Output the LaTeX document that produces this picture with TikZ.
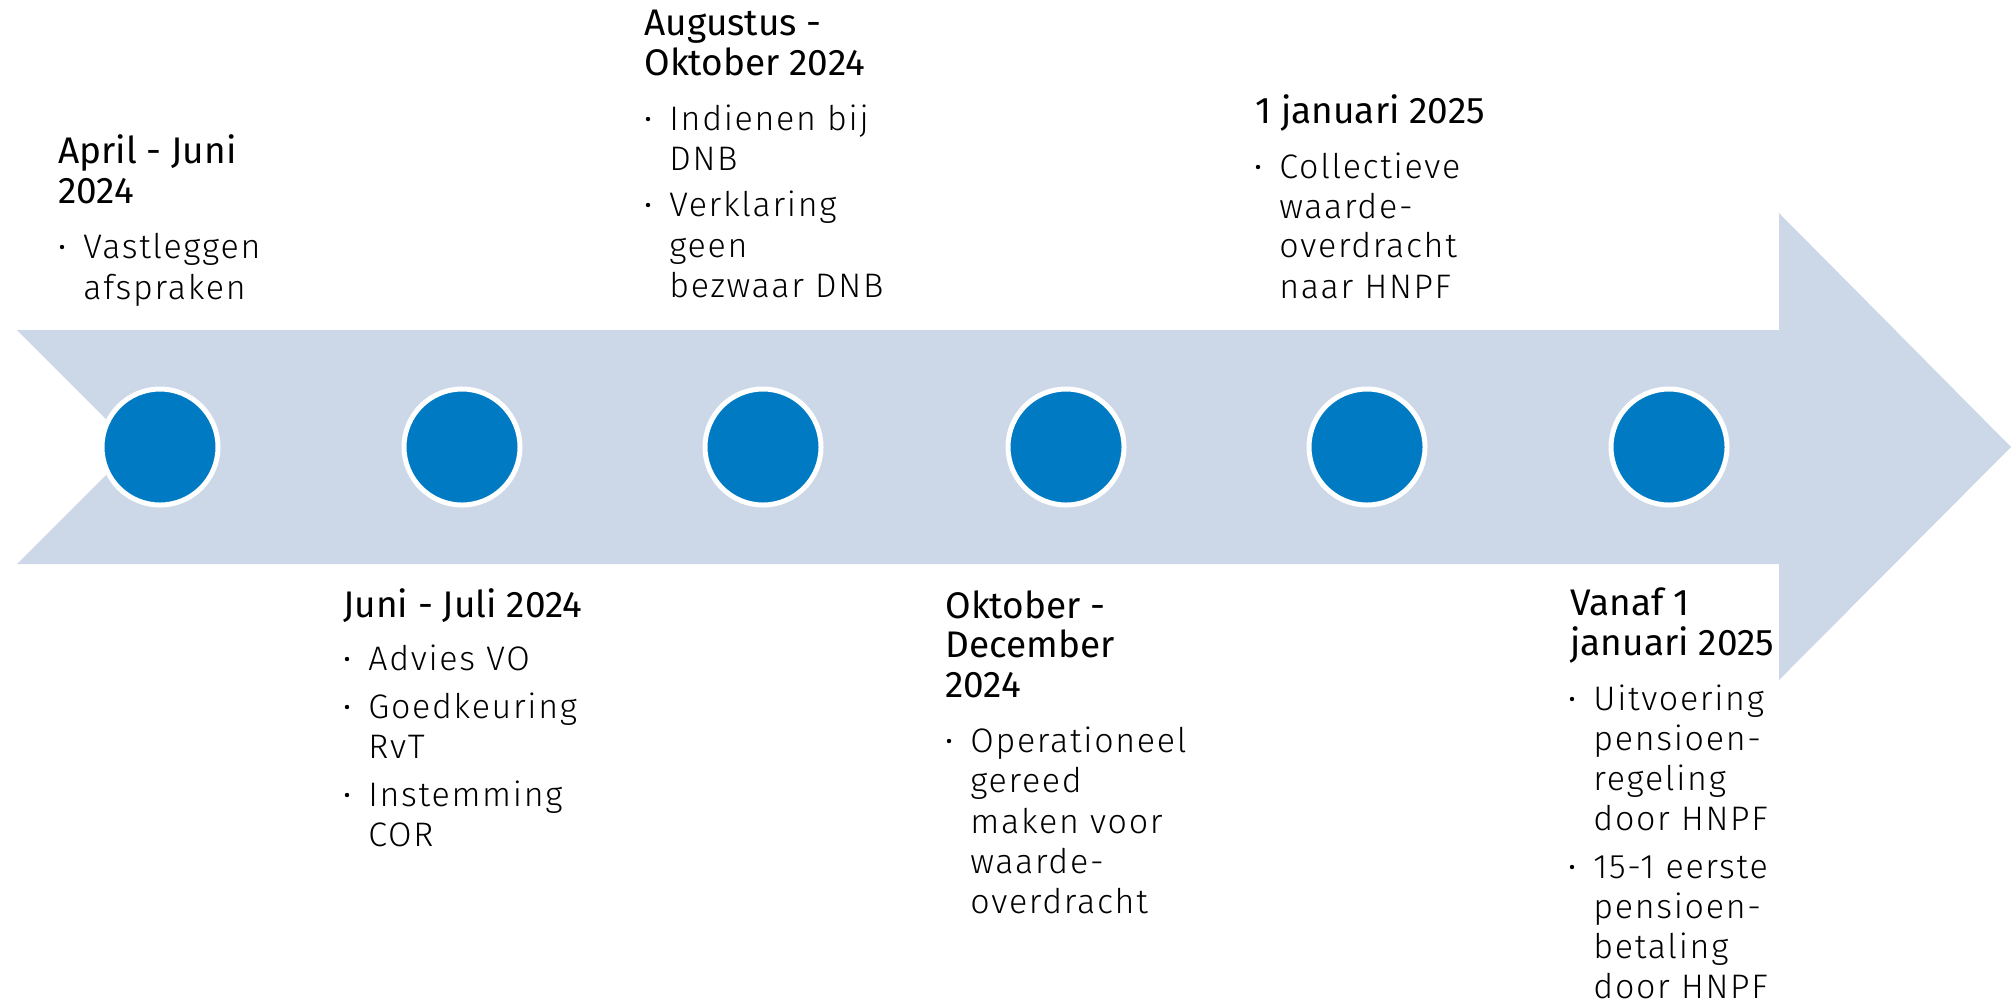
\documentclass[tikz,border=0pt]{standalone}
\usepackage{fontspec}
\setmainfont{Fira Sans}
\newfontfamily\lightfont{Fira Sans Light}[LetterSpace=5]
\definecolor{arrowfill}{RGB}{204,215,232}
\definecolor{dotblue}{RGB}{0,122,194}
\begin{document}
\begin{tikzpicture}[x=0.5pt,y=-0.5pt,
  hdr/.style={anchor=base west, inner sep=0pt, font=\fontsize{18.5pt}{20pt}\selectfont},
  itm/.style={anchor=base west, inner sep=0pt, font=\lightfont\fontsize{17pt}{20pt}\selectfont},
  milestone/.style={circle, fill=dotblue, draw=white, line width=2.5pt, minimum size=58pt, inner sep=0pt},
  bulletdot/.style={fill=black}]
\useasboundingbox (0,0) rectangle (2011,1003);
% arrow
\fill[arrowfill] (17,330) -- (1779,330) -- (1779,213) -- (2011,447) -- (1779,680) -- (1779,564) -- (17,564) -- (134,447) -- cycle;
% milestones
\node[milestone] (m1) at (160,447) {};
\node[milestone] (m2) at (462,447) {};
\node[milestone] (m3) at (763,447) {};
\node[milestone] (m4) at (1066,447) {};
\node[milestone] (m5) at (1367,447) {};
\node[milestone] (m6) at (1669,447) {};
% group 1
\node[hdr] (h1a) at (58,163) {April - Juni};
\node[hdr] (h1b) at (58,203) {2024};
\fill[bulletdot] (62,247) circle (1.1pt);
\node[itm] (i1a) at (83,258) {Vastleggen};
\node[itm] (i1b) at (83,299) {afspraken};
% group 2
\node[hdr] (h2a) at (343,617) {Juni - Juli 2024};
\fill[bulletdot] (347,659) circle (1.1pt);
\node[itm] (i2a) at (368,670) {Advies VO};
\fill[bulletdot] (347,707) circle (1.1pt);
\node[itm] (i2b) at (368,718) {Goedkeuring};
\node[itm] (i2c) at (368,758) {RvT};
\fill[bulletdot] (347,795) circle (1.1pt);
\node[itm] (i2d) at (368,806) {Instemming};
\node[itm] (i2e) at (368,846) {COR};
% group 3
\node[hdr] (h3a) at (644,35) {Augustus -};
\node[hdr] (h3b) at (644,75) {Oktober 2024};
\fill[bulletdot] (648,119) circle (1.1pt);
\node[itm] (i3a) at (669,130) {Indienen bij};
\node[itm] (i3b) at (669,170) {DNB};
\fill[bulletdot] (648,205) circle (1.1pt);
\node[itm] (i3c) at (669,216) {Verklaring};
\node[itm] (i3d) at (669,257) {geen};
\node[itm] (i3e) at (669,297) {bezwaar DNB};
% group 4
\node[hdr] (h4a) at (945,618) {Oktober -};
\node[hdr] (h4b) at (945,657) {December};
\node[hdr] (h4c) at (945,697) {2024};
\fill[bulletdot] (949,741) circle (1.1pt);
\node[itm] (i4a) at (970,752) {Operationeel};
\node[itm] (i4b) at (970,792) {gereed};
\node[itm] (i4c) at (970,833) {maken voor};
\node[itm] (i4d) at (970,873) {waarde-};
\node[itm] (i4e) at (970,913) {overdracht};
% group 5
\node[hdr] (h5a) at (1255,123) {1 januari 2025};
\fill[bulletdot] (1258,167) circle (1.1pt);
\node[itm] (i5a) at (1279,178) {Collectieve};
\node[itm] (i5b) at (1279,218) {waarde-};
\node[itm] (i5c) at (1279,257) {overdracht};
\node[itm] (i5d) at (1279,298) {naar HNPF};
% group 6
\node[hdr] (h6a) at (1570,615) {Vanaf 1};
\node[hdr] (h6b) at (1570,655) {januari 2025};
\fill[bulletdot] (1572,699) circle (1.1pt);
\node[itm] (i6a) at (1593,710) {Uitvoering};
\node[itm] (i6b) at (1593,750) {pensioen-};
\node[itm] (i6c) at (1593,790) {regeling};
\node[itm] (i6d) at (1593,830) {door HNPF};
\fill[bulletdot] (1572,867) circle (1.1pt);
\node[itm] (i6e) at (1593,878) {15-1 eerste};
\node[itm] (i6f) at (1593,918) {pensioen-};
\node[itm] (i6g) at (1593,958) {betaling};
\node[itm] (i6h) at (1593,998) {door HNPF};
\end{tikzpicture}
\end{document}
